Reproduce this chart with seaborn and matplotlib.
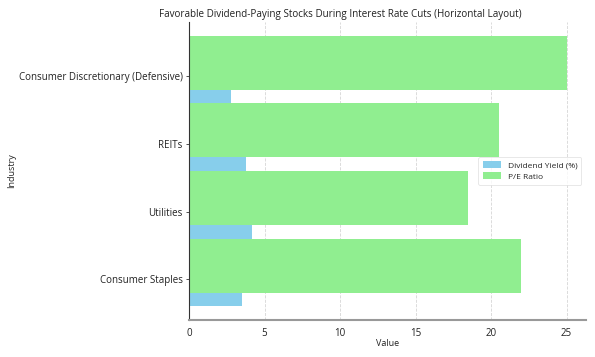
import matplotlib
matplotlib.use("Agg")
import matplotlib.pyplot as plt
import seaborn as sns
import numpy as np

industries = ["Consumer Staples", "Utilities", "REITs", "Consumer Discretionary (Defensive)"]
dividend_yield = [3.5, 4.2, 3.8, 2.8]
pe_ratio = [22, 18.5, 20.5, 25]

sns.set_style("white")
plt.rcParams["font.family"] = ["Open Sans", "DejaVu Sans"]

fig = plt.figure(figsize=(5.95, 3.57), dpi=100)
ax = fig.add_axes([189/595, 1 - 320/357, (585.5 - 189)/595, (320 - 22)/357])

pos = np.arange(len(industries))
sns.barplot(x=dividend_yield, y=pos - 0.3, orient="h", native_scale=True, width=0.2,
            color="#87CEEB", saturation=1, errorbar=None, label="Dividend Yield (%)",
            linewidth=0, ax=ax)
sns.barplot(x=pe_ratio, y=pos + 0.2, orient="h", native_scale=True, width=0.8,
            color="#90EE90", saturation=1, errorbar=None, label="P/E Ratio",
            linewidth=0, ax=ax)

ax.set_yticks(pos)
ax.set_yticklabels(industries)
ax.set_xticks([0, 5, 10, 15, 20, 25])
ax.set_ylim(-0.6, 3.8)
ax.set_xlim(0, 26.25)
ax.set_axisbelow(True)
ax.grid(axis="x", linestyle="--", color="#cccccc", linewidth=0.6, alpha=0.8)
ax.grid(axis="y", visible=False)

for s in ["top", "right"]:
    ax.spines[s].set_visible(False)
ax.spines["left"].set_color("#333333")
ax.spines["left"].set_linewidth(0.8)
ax.spines["bottom"].set_color("#999999")
ax.spines["bottom"].set_linewidth(1.5)

ax.tick_params(axis="y", left=True, length=2.5, width=0.6, color="#333333", labelsize=7, pad=2, labelcolor="#222222")
ax.tick_params(axis="x", bottom=False, labelsize=7, pad=2, labelcolor="#222222")

ax.set_xlabel("Value", fontsize=6.5, labelpad=0.5, color="#222222")
ax.set_ylabel("")
fig.text(12/595, 1 - 171/357, "Industry", rotation=90, fontsize=6.5,
         ha="center", va="center", color="#222222")
fig.text(340/595, 1 - 15/357,
         "Favorable Dividend-Paying Stocks During Interest Rate Cuts (Horizontal Layout)",
         fontsize=7.15, ha="center", va="center", color="#222222")

leg = ax.legend(loc="center right", fontsize=6, frameon=True, handlelength=2.2,
                handleheight=0.9, borderpad=0.5, labelspacing=0.35)
leg.get_frame().set_edgecolor("#dddddd")
leg.get_frame().set_linewidth(0.6)

fig.savefig("out.png", dpi=100)
